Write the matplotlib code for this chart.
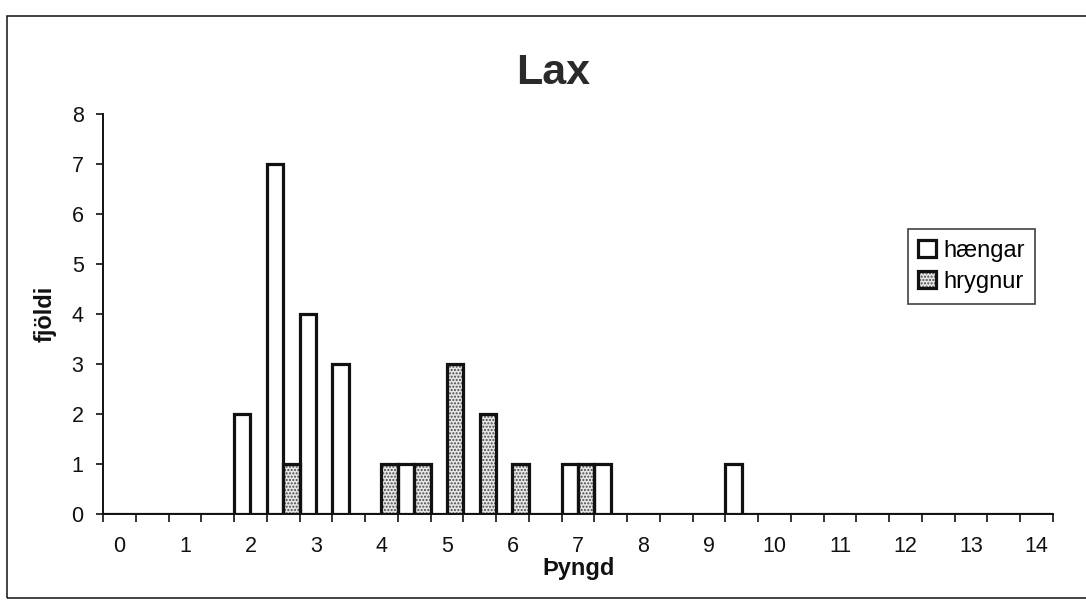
import numpy as np
import matplotlib
matplotlib.use("Agg")
import matplotlib.pyplot as plt
from matplotlib.patches import Patch, Rectangle

# ---- data ----
weights = [0, 0.5, 1, 1.5, 2, 2.5, 3, 3.5, 4, 4.5, 5, 5.5, 6, 6.5, 7, 7.5,
           8, 8.5, 9, 9.5, 10, 10.5, 11, 11.5, 12, 12.5, 13, 13.5, 14]
haengar = [0, 0, 0, 0, 2, 7, 4, 3, 0, 1, 0, 0, 0, 0, 1, 1,
           0, 0, 0, 1, 0, 0, 0, 0, 0, 0, 0, 0, 0]
hrygnur = [0, 0, 0, 0, 0, 1, 0, 0, 1, 1, 3, 2, 1, 0, 1, 0,
           0, 0, 0, 0, 0, 0, 0, 0, 0, 0, 0, 0, 0]
series_names = ["hængar", "hrygnur"]
title = "Lax"
xlabel = "Þyngd"
ylabel = "fjöldi"
yticks = [0, 1, 2, 3, 4, 5, 6, 7, 8]

plt.rcParams['font.family'] = ['Liberation Sans', 'DejaVu Sans']
plt.rcParams['hatch.linewidth'] = 1.0

W, H = 1086, 604
fig = plt.figure(figsize=(W / 100, H / 100), dpi=100)
ax = fig.add_axes([103 / W, 1 - 514 / H, 950 / W, 400 / H])

idx = np.arange(len(weights))
bw = 0.5
lw = 2.3
stip_face = '#e6e6e6'
stip_dot = '#4a4a4a'

# hængar: white bars with thick black edges
ax.bar(idx - bw / 2, haengar, width=bw, facecolor='white', edgecolor='#111111',
       linewidth=lw, zorder=3)
# hrygnur: stippled fill layer + edge layer
ax.bar(idx + bw / 2, hrygnur, width=bw, facecolor=stip_face, edgecolor=stip_dot,
       linewidth=0, hatch='.....', zorder=2)
ax.bar(idx + bw / 2, hrygnur, width=bw, fill=False, edgecolor='#111111',
       linewidth=lw, zorder=3)

ax.set_xlim(-0.5, len(weights) - 0.5)
ax.set_ylim(0, 8)

# axes styling
for s in ['top', 'right']:
    ax.spines[s].set_visible(False)
for s in ['left', 'bottom']:
    ax.spines[s].set_linewidth(1.4)
    ax.spines[s].set_color('#111111')
    ax.spines[s].set_zorder(4)

ax.set_yticks(yticks)
ax.set_yticklabels([str(v) for v in yticks])
ax.tick_params(axis='y', direction='out', length=5, width=1.2, pad=9,
               labelsize=15.5, colors='#111111')

lab_pos = [i for i, w in enumerate(weights) if float(w).is_integer()]
ax.set_xticks(lab_pos)
ax.set_xticklabels([str(int(weights[i])) for i in lab_pos])
ax.tick_params(axis='x', which='major', length=0, pad=16, labelsize=15.5,
               colors='#111111')
ax.set_xticks(np.arange(-0.5, len(weights), 1.0), minor=True)
ax.tick_params(axis='x', which='minor', direction='out', length=6, width=1.2,
               colors='#111111')

# legend
h1 = Patch(facecolor='white', edgecolor='#111111', linewidth=lw)
h2a = Patch(facecolor=stip_face, edgecolor=stip_dot, linewidth=0, hatch='.....')
h2b = Patch(fill=False, edgecolor='#111111', linewidth=lw)
leg = ax.legend([h1, (h2a, h2b)], series_names, loc='upper left',
                bbox_to_anchor=(0.847, 0.7125), fontsize=17, frameon=True,
                fancybox=False, edgecolor='#111111', handlelength=0.75,
                handleheight=0.75, handletextpad=0.3, borderpad=0.45,
                labelspacing=0.4, borderaxespad=0)
leg.get_frame().set_linewidth(1.2)

# texts
fig.text(553 / W, 1 - 73 / H, title, ha='center', va='center',
         fontsize=31, fontweight='bold', color='#2a2a2a')
fig.text(45 / W, 1 - 314 / H, ylabel, ha='center', va='center', rotation=90,
         fontsize=17, fontweight='bold', color='#111111')
fig.text(579 / W, 1 - 568 / H, xlabel, ha='center', va='center',
         fontsize=17, fontweight='bold', color='#111111')

# outer frame
fig.patches.append(Rectangle((7 / W, 6 / H), 1.0, (598 - 16) / H,
                             transform=fig.transFigure, fill=False,
                             edgecolor='#111111', linewidth=1.1))

fig.savefig("out.png", dpi=100, facecolor='white')
